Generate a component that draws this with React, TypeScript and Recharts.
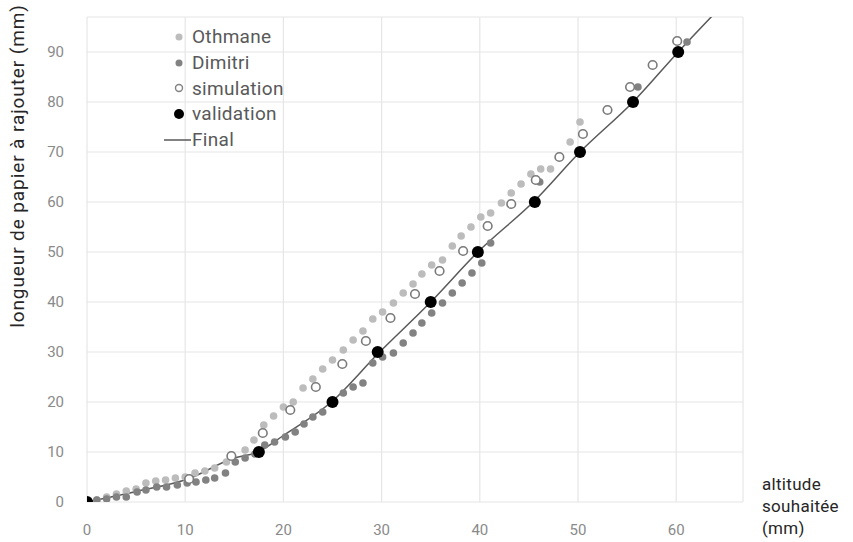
import React from "react";
import { ComposedChart, XAxis, YAxis, CartesianGrid, Scatter, Line } from "recharts";

const othmane = [
  [1, 0.4], [2, 1.0], [3, 1.6], [4, 2.2], [5, 2.6], [6, 3.8], [7, 4.2], [8, 4.4], [9, 4.8], [10, 5.0],
  [11, 5.8], [12, 6.2], [13, 6.8], [14.2, 8.0], [16.1, 10.4], [17, 12.4], [18, 15.4], [19, 17.2], [20, 19],
  [21, 20], [22, 22.8], [23, 24.6], [24, 26.6], [25, 28.4], [26.1, 30.4], [27.1, 32.4], [28.1, 34.2],
  [29.1, 36.6], [30.1, 38], [31.2, 39.8], [32.2, 41.8], [33.2, 43.6], [34.1, 45.6], [35.1, 47.4],
  [36.2, 48.4], [37.2, 51.2], [38.1, 53.2], [39.1, 55], [40.1, 57], [41.1, 57.8], [42.2, 59.8],
  [43.2, 61.8], [44.2, 63.6], [45.2, 65.6], [46.2, 66.6], [47.2, 66.6], [49.2, 72], [50.2, 76],
].map(([x, y]) => ({ x, y }));

const dimitri = [
  [1, 0.4], [2, 0.6], [3, 1], [4, 1], [5.1, 2], [6, 2.4], [7.1, 3], [8.1, 3], [9.2, 3.4], [10.2, 3.8],
  [11.1, 4], [12.1, 4.4], [13, 4.8], [14.1, 5.8], [15.1, 8], [16.1, 8.8], [17.1, 9.6], [18.1, 11.4],
  [19.1, 12], [20.2, 13], [21.2, 14], [22.1, 15.6], [23, 17], [24, 18], [25.1, 20], [26.1, 21.8],
  [27.1, 23], [28.1, 23.8], [29.1, 27.8], [30.1, 29], [31.2, 29.8], [32.2, 31.8], [33.2, 33.8],
  [34.1, 35.8], [35.1, 37.8], [36.2, 39.8], [37.2, 41.8], [38.2, 43.8], [39.2, 45.8], [40.2, 47.8],
  [41.1, 51.8], [46.1, 64], [56.1, 83], [61.1, 92],
].map(([x, y]) => ({ x, y }));

const simulation = [
  [0, 0], [10.4, 4.6], [14.7, 9.2], [17.9, 13.8], [20.7, 18.4], [23.3, 23], [26, 27.6], [28.4, 32.2],
  [30.9, 36.8], [33.4, 41.6], [35.9, 46.2], [38.3, 50.2], [40.8, 55.2], [43.2, 59.6], [45.7, 64.4],
  [48.1, 69], [50.5, 73.6], [53, 78.4], [55.3, 83], [57.6, 87.4], [60.1, 92.2],
].map(([x, y]) => ({ x, y }));

const validation = [
  [0, 0], [17.5, 10], [25, 20], [29.6, 30], [35, 40], [39.8, 50], [45.6, 60], [50.2, 70], [55.6, 80], [60.2, 90],
].map(([x, y]) => ({ x, y }));

const finalCurve = [
  [0, 0], [5, 2.1], [10.4, 4.7], [14.7, 8.6], [17.5, 10.1], [20, 13.3], [25, 20.2], [29.6, 29.6],
  [35, 40], [39.8, 50], [45.6, 60.3], [50.2, 70], [55.6, 80], [60.2, 90], [66, 102],
].map(([x, y]) => ({ x, y }));

const xTicks = [0, 10, 20, 30, 40, 50, 60];
const yTicks = [0, 10, 20, 30, 40, 50, 60, 70, 80, 90];

const legendItems = [
  { name: "Othmane", kind: "dot", color: "#bcbcbc", r: 3.5 },
  { name: "Dimitri", kind: "dot", color: "#828282", r: 3.5 },
  { name: "simulation", kind: "open", color: "#828282", r: 3.5 },
  { name: "validation", kind: "dot", color: "#000000", r: 5 },
  { name: "Final", kind: "line", color: "#595959", r: 0 },
];

const dotShape = (fill: string, r: number, stroke?: string) => (props: any) => {
  const { cx, cy } = props;
  if (cx == null || cy == null) return null;
  return (
    <circle cx={cx} cy={cy} r={r} fill={fill} stroke={stroke || "none"} strokeWidth={stroke ? 1.6 : 0} />
  );
};

const LegendBox = () => (
  <div
    style={{
      position: "absolute",
      left: 162,
      top: 24,
      fontFamily: "Roboto, sans-serif",
      fontSize: 19,
      letterSpacing: 0.3,
      color: "#595959",
    }}
  >
    {legendItems.map((it) => (
      <div key={it.name} style={{ display: "flex", alignItems: "center", height: 25.8, lineHeight: "25.8px" }}>
        <svg width={29} height={20} style={{ marginRight: 1, flex: "none" }}>
          {it.kind === "dot" && <circle cx={17} cy={10} r={it.r} fill={it.color} />}
          {it.kind === "open" && <circle cx={17} cy={10} r={it.r} fill="#fff" stroke={it.color} strokeWidth={1.4} />}
          {it.kind === "line" && <line x1={2} y1={10} x2={29} y2={10} stroke={it.color} strokeWidth={1.5} />}
        </svg>
        <span>{it.name}</span>
      </div>
    ))}
  </div>
);

export default function App() {
  return (
    <div style={{ position: "absolute", left: 0, top: 0, width: 853, height: 542, background: "#fff", overflow: "hidden" }}>
      <ComposedChart
        width={853}
        height={542}
        margin={{ top: 17, right: 110, bottom: 10, left: 27 }}
      >
        <CartesianGrid stroke="#e6e6e6" strokeWidth={1.2} />
        <XAxis
          type="number"
          dataKey="x"
          domain={[0, 66.8]}
          ticks={xTicks}
          allowDataOverflow
          axisLine={false}
          tickLine={false}
          height={30}
          tickMargin={16}
          tick={{ fill: "#8a8a8a", fontSize: 15, fontFamily: "Roboto, sans-serif" }}
        />
        <YAxis
          type="number"
          dataKey="y"
          domain={[0, 97]}
          ticks={yTicks}
          allowDataOverflow
          axisLine={false}
          tickLine={false}
          width={60}
          tickMargin={17}
          tick={{ fill: "#8a8a8a", fontSize: 15, fontFamily: "Roboto, sans-serif" }}
        />
        <Line
          data={finalCurve}
          dataKey="y"
          type="monotone"
          stroke="#595959"
          strokeWidth={1.5}
          dot={false}
          activeDot={false}
          isAnimationActive={false}
          legendType="none"
        />
        <Scatter data={othmane} fill="#bcbcbc" shape={dotShape("#bcbcbc", 3.8)} isAnimationActive={false} />
        <Scatter data={dimitri} fill="#828282" shape={dotShape("#828282", 3.8)} isAnimationActive={false} />
        <Scatter data={simulation} fill="#ffffff" shape={dotShape("#ffffff", 4.3, "#7a7a7a")} isAnimationActive={false} />
        <Scatter data={validation} fill="#000000" shape={dotShape("#000000", 6)} isAnimationActive={false} />
      </ComposedChart>
      <LegendBox />
      <div
        style={{
          position: "absolute",
          left: 17,
          top: 166,
          transform: "translate(-50%, -50%) rotate(-90deg)",
          whiteSpace: "nowrap",
          fontFamily: "Roboto, sans-serif",
          fontSize: 19,
          letterSpacing: 0.9,
          color: "#262626",
        }}
      >
        longueur de papier à rajouter (mm)
      </div>
      <div
        style={{
          position: "absolute",
          left: 762,
          top: 473,
          width: 91,
          whiteSpace: "nowrap",
          textAlign: "left",
          fontFamily: "Roboto, sans-serif",
          fontSize: 17,
          letterSpacing: 0.3,
          lineHeight: "22px",
          color: "#262626",
        }}
      >
        <div>altitude</div>
        <div>souhaitée</div>
        <div>(mm)</div>
      </div>
    </div>
  );
}
